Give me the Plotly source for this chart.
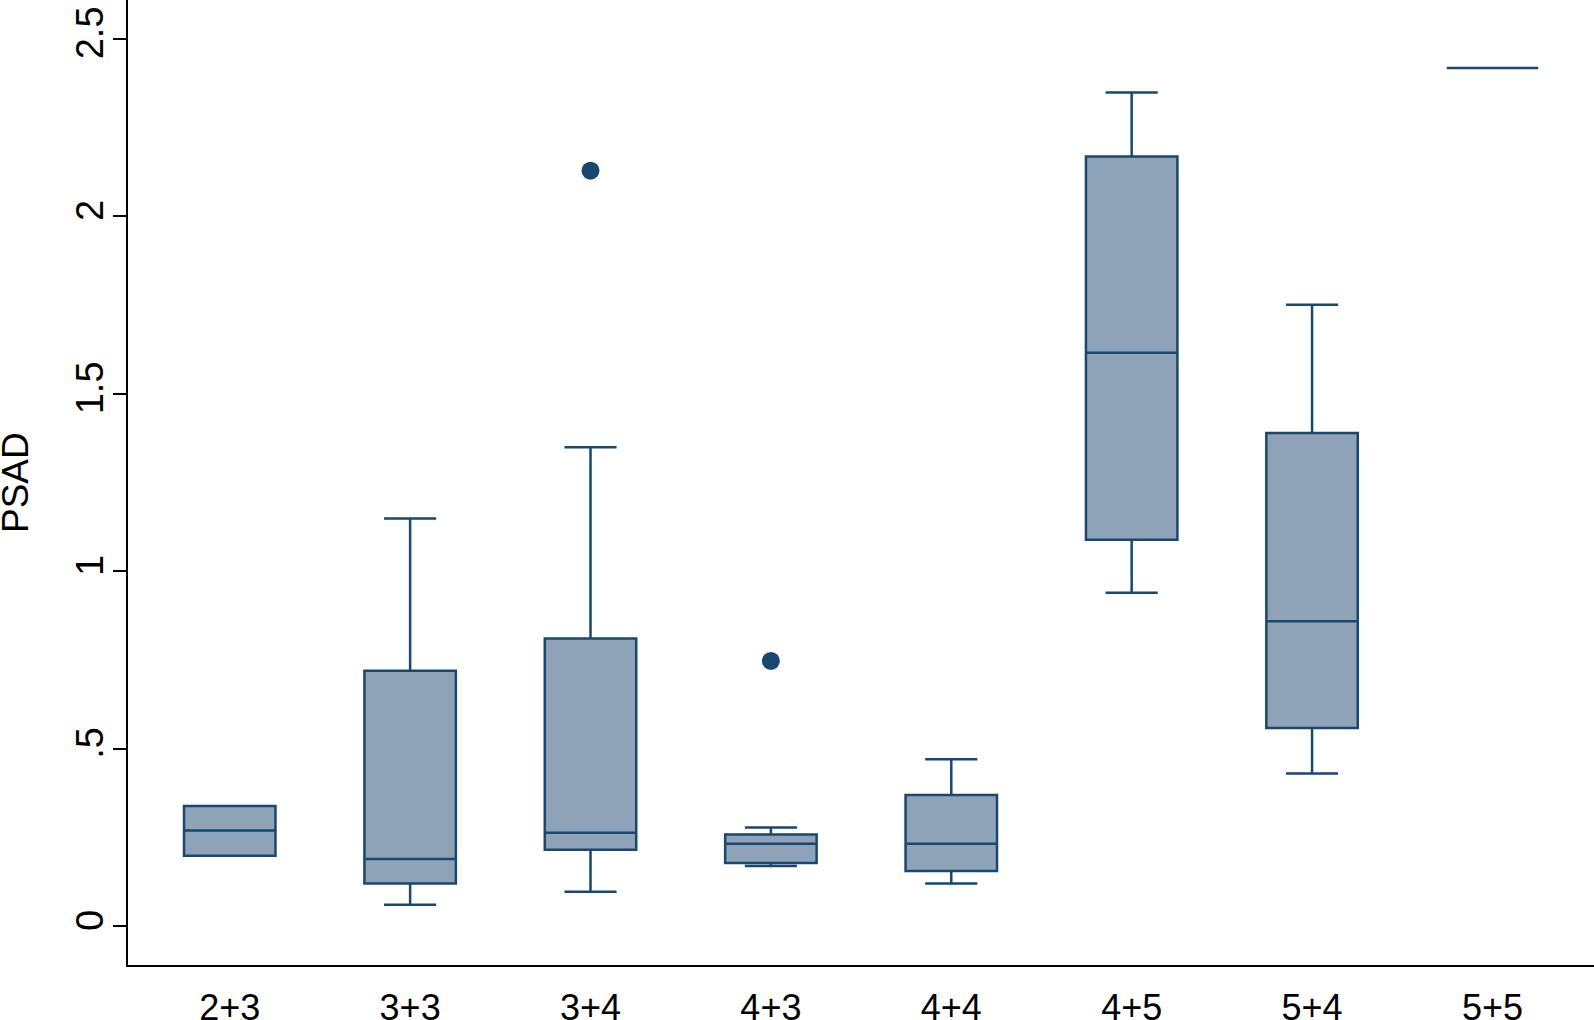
import plotly.graph_objects as go

categories = ["2+3", "3+3", "3+4", "4+3", "4+4", "4+5", "5+4", "5+5"]
lower_whisker = [0.198, 0.060, 0.097, 0.169, 0.120, 0.939, 0.430, 2.417]
q1_vals       = [0.198, 0.120, 0.215, 0.178, 0.155, 1.088, 0.558, 2.417]
median_vals   = [0.269, 0.189, 0.263, 0.232, 0.232, 1.615, 0.859, 2.417]
q3_vals       = [0.338, 0.719, 0.810, 0.258, 0.369, 2.168, 1.389, 2.417]
upper_whisker = [0.338, 1.148, 1.349, 0.278, 0.470, 2.348, 1.750, 2.417]
outlier_cats  = ["3+4", "4+3"]
outlier_vals  = [2.128, 0.747]

y_tickvals = [0, 0.5, 1, 1.5, 2, 2.5]
y_ticktext = ["0", ".5", "1", "1.5", "2", "2.5"]
y_title = "PSAD"

LINE = "#1a476f"
FILL = "rgb(142,163,184)"
FONT = "Liberation Sans, Arial, sans-serif"

xpos = list(range(len(categories)))

fig = go.Figure()
fig.add_trace(go.Box(
    x=xpos,
    q1=q1_vals, median=median_vals, q3=q3_vals,
    lowerfence=lower_whisker, upperfence=upper_whisker,
    boxpoints=False,
    width=0.507,
    whiskerwidth=0.57,
    fillcolor=FILL,
    line=dict(color=LINE, width=2.5),
    showlegend=False,
    hoverinfo="skip",
))
fig.add_trace(go.Scatter(
    x=[categories.index(c) for c in outlier_cats],
    y=outlier_vals,
    mode="markers",
    marker=dict(color=LINE, size=18, symbol="circle"),
    showlegend=False,
    hoverinfo="skip",
))

fig.update_layout(
    width=1594, height=1020,
    margin=dict(l=128, r=0, t=0, b=55, autoexpand=False),
    paper_bgcolor="white", plot_bgcolor="white",
    font=dict(family=FONT, size=36, color="black"),
)
fig.add_annotation(
    text=y_title, textangle=-90,
    xref="paper", yref="paper", x=0, y=0.4995,
    xanchor="center", yanchor="middle", xshift=-112,
    showarrow=False,
    font=dict(family=FONT, size=37, color="black"),
)
fig.update_xaxes(
    range=[-0.564, 7.563],
    tickmode="array", tickvals=xpos, ticktext=categories,
    showgrid=False, zeroline=False,
    showline=True, linecolor="black", linewidth=2,
    ticks="outside", ticklen=10, tickcolor="rgba(0,0,0,0)",
    tickfont=dict(family=FONT, size=36, color="black"),
    automargin=False,
)
fig.update_yaxes(
    range=[-0.1096, 2.6087],
    tickmode="array", tickvals=y_tickvals, ticktext=y_ticktext,
    tickangle=-90,
    showgrid=False, zeroline=False,
    showline=True, linecolor="black", linewidth=2,
    ticks="outside", ticklen=13, tickwidth=2, tickcolor="black",
    ticklabelstandoff=-5,
    tickfont=dict(family=FONT, size=38, color="black"),
    automargin=False,
)

fig.write_html(
    "out.html",
    config={"displayModeBar": False},
    post_script="document.body.style.margin='0px';document.body.style.overflow='hidden';",
)
